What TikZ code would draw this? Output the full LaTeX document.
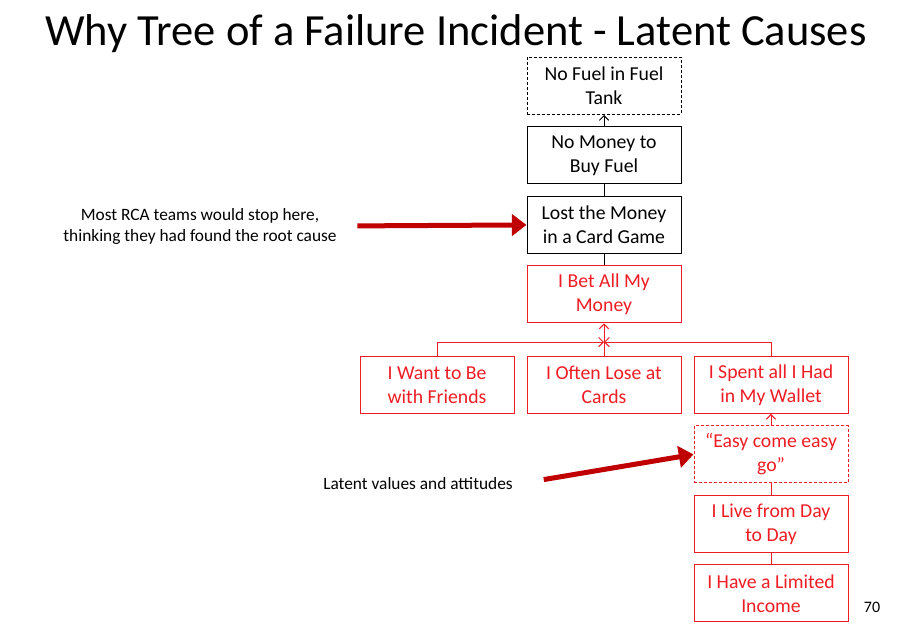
\documentclass[tikz,border=0pt]{standalone}
\usepackage{fontspec}
\setmainfont{Carlito}
\usetikzlibrary{arrows.meta}
\definecolor{whyred}{RGB}{238,28,36}
\definecolor{darkred}{RGB}{192,0,0}

\begin{document}
\begin{tikzpicture}[x=0.75pt, y=-0.75pt, node distance=52.1pt]
\tikzstyle{box} = [rectangle, minimum width=115.5pt, minimum height=42.75pt, inner sep=2pt, align=center, draw=black, line width=0.75pt, font=\fontsize{14.8}{18}\selectfont]
\tikzstyle{redbox} = [box, draw=whyred, text=whyred]
\tikzstyle{maybe} = [dash pattern=on 2.25pt off 1.5pt]
\tikzstyle{note} = [align=center, font=\fontsize{13}{15.75}\selectfont]
\tikzstyle{arrow} = [line width=0.75pt, -{Straight Barb[length=3.5pt, width=7pt]}]
\tikzstyle{redarrow} = [arrow, draw=whyred]
\tikzstyle{bigarrow} = [darkred, line width=3.75pt, -{Triangle[length=11pt, width=16pt]}]

\useasboundingbox (0,0) rectangle (900,631);

\node (title) at (456,34) {\fontsize{33.4}{40}\selectfont Why Tree of a Failure Incident - Latent Causes};

\node (fuel) [box, maybe] at (604,86) {No Fuel in Fuel\\Tank};
\node (money) [box, below of=fuel] {No Money to\\Buy Fuel};
\node (lost) [box, below of=money] {Lost the Money\\in a Card Game};
\node (bet) [redbox, below of=lost] {I Bet All My\\Money};
\node (often) [redbox, below of=bet, yshift=-15.8pt] {I Often Lose at\\Cards};
\node (want) [redbox, left of=often, node distance=125.25pt] {I Want to Be\\with Friends};
\node (spent) [redbox, right of=often, node distance=125.25pt] {I Spent all I Had\\in My Wallet};
\node (easy) [redbox, maybe, below of=spent] {\textquotedblleft Easy come easy\\go\textquotedblright};
\node (live) [redbox, below of=easy] {I Live from Day\\to Day};
\node (income) [redbox, below of=live] {I Have a Limited\\Income};

\node (rcanote) [note] at (200,226) {Most RCA teams would stop here,\\thinking they had found the root cause};
\node (latent) [note] at (418,484) {Latent values and attitudes};
\node (page) at (872,607) {\fontsize{12}{14}\selectfont 70};

\coordinate (join) at ([yshift=-14pt]bet.south);

\draw [arrow] (money) -- (fuel);
\draw [line width=0.75pt] (lost) -- (money);
\draw [line width=0.75pt] (bet) -- (lost);
\draw [redarrow] (often) -- (bet);
\draw [redarrow] (want.north) |- (join);
\draw [redarrow] (spent.north) |- (join);
\draw [redarrow] (easy) -- (spent);
\draw [line width=0.75pt, whyred] (live) -- (easy);
\draw [line width=0.75pt, whyred] (income) -- (live);

\draw [bigarrow, shorten <=12pt] (rcanote.east) -- (lost.west);
\draw [bigarrow, shorten <=20pt] (latent.east) -- (easy.west);
\end{tikzpicture}
\end{document}
